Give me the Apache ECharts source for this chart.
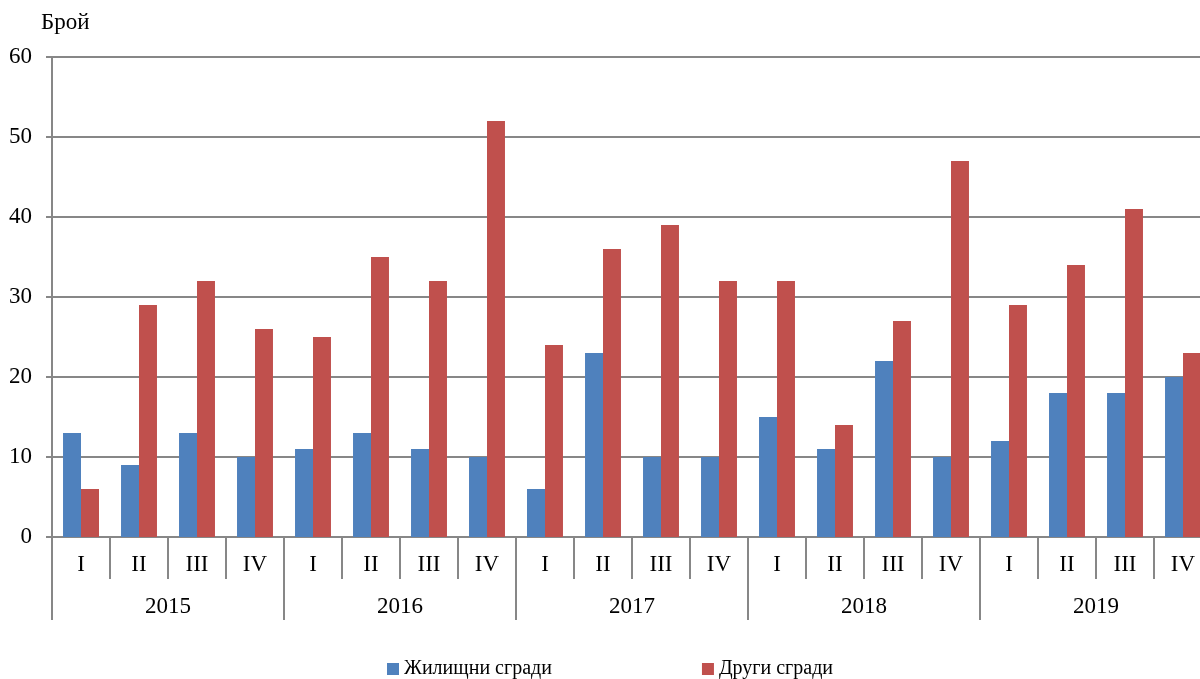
<!DOCTYPE html>
<html>
<head>
<meta charset="utf-8">
<script src="https://cdn.jsdelivr.net/npm/echarts@6/dist/echarts.min.js"></script>
<style>html,body{margin:0;padding:0;background:#fff;overflow:hidden;width:1200px;height:679px}#c{width:1216px;height:679px}</style>
</head>
<body>
<div id="c"></div>
<script>
const quarters = ['I','II','III','IV','I','II','III','IV','I','II','III','IV','I','II','III','IV','I','II','III','IV'];
const years = ['2015','2016','2017','2018','2019'];
const residential = [13, 9, 13, 10, 11, 13, 11, 10, 6, 23, 10, 10, 15, 11, 22, 10, 12, 18, 18, 20];
const other = [6, 29, 32, 26, 25, 35, 32, 52, 24, 36, 39, 32, 32, 14, 27, 47, 29, 34, 41, 23];
const yTicks = [0, 10, 20, 30, 40, 50, 60];

const font = '"Liberation Serif", "Times New Roman", serif';
const gray = '#878787';
const chart = echarts.init(document.getElementById('c'));
chart.setOption({
  animation: false,
  textStyle: { fontFamily: font },
  grid: { left: 52, top: 57, width: 1160, bottom: 142, containLabel: false },
  legend: {
    top: 658, left: 387, padding: 0,
    itemWidth: 12, itemHeight: 12, itemGap: 150,
    icon: 'rect',
    textStyle: { fontFamily: font, fontSize: 20, lineHeight: 22, color: '#000' },
    data: ['Жилищни сгради', 'Други сгради']
  },
  graphic: [{
    type: 'text', left: 41, top: 11,
    style: { text: 'Брой', font: '23px ' + font, fill: '#000' }
  }],
  xAxis: [{
    type: 'category', data: quarters, position: 'bottom',
    axisLine: { show: true, lineStyle: { color: gray, width: 2 } },
    axisTick: { show: true, length: 42, interval: 0, lineStyle: { color: gray, width: 2 } },
    axisLabel: { fontSize: 23, color: '#000', margin: 16, fontFamily: font, interval: 0 }
  }, {
    type: 'category', data: years, position: 'bottom',
    axisLine: { show: false },
    axisTick: { show: true, length: 83, interval: 0, lineStyle: { color: gray, width: 2 } },
    axisLabel: { fontSize: 23, color: '#000', margin: 58, fontFamily: font, interval: 0 }
  }],
  yAxis: {
    type: 'value', min: yTicks[0], max: yTicks[yTicks.length - 1], interval: 10,
    axisLine: { show: true, lineStyle: { color: gray, width: 2 } },
    axisTick: { show: true, length: 6, lineStyle: { color: gray, width: 2 } },
    axisLabel: { fontSize: 23, color: '#000', margin: 20, fontFamily: font },
    splitLine: { lineStyle: { color: gray, width: 2 } }
  },
  series: [{
    name: 'Жилищни сгради', type: 'bar', data: residential,
    xAxisIndex: 0, barGap: '0%', barCategoryGap: '38%',
    itemStyle: { color: '#4F81BD' }
  }, {
    name: 'Други сгради', type: 'bar', data: other,
    xAxisIndex: 0, barGap: '0%', barCategoryGap: '38%',
    itemStyle: { color: '#C0504D' }
  }]
});
</script>
</body>
</html>
